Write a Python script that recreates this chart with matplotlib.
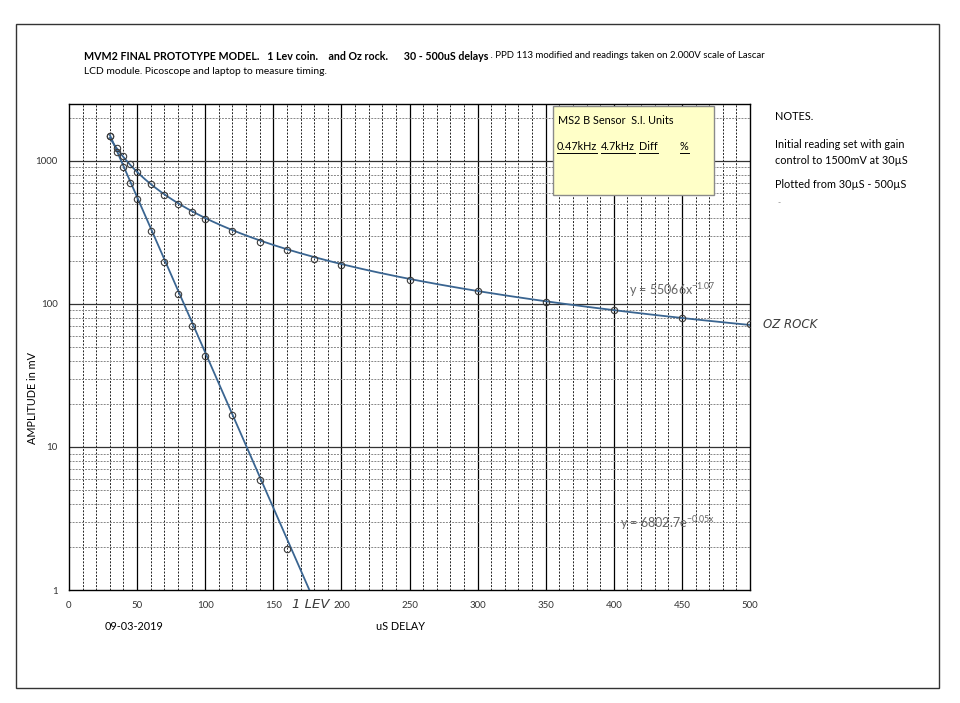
import numpy as np
import matplotlib
matplotlib.use('Agg')
import matplotlib.pyplot as plt
from matplotlib.patches import Rectangle

plt.rcParams['font.family'] = ['Lato', 'DejaVu Sans']

# delay in uS, amplitude in mV
oz_delay = [30, 35, 40, 45, 50, 60, 70, 80, 90, 100, 120, 140, 160, 180, 200,
            250, 300, 350, 400, 450, 500]
oz_amp = [1500, 1240, 1085, 950, 835, 690, 575, 498, 440, 392, 322, 273, 237,
          207, 187, 147, 123, 104, 91, 80, 72]
lev_delay = [30, 35, 40, 45, 50, 60, 70, 80, 90, 100, 120, 140, 160]
lev_amp = [1500, 1150, 900, 705, 540, 326, 197, 117, 70.5, 43.5, 16.7, 5.9, 1.95]

# trendline coefficients as printed on the chart
pow_a, pow_b = 55066, -1.07
exp_a, exp_b = 6802.7, -0.05

W, H = 960, 703
fig = plt.figure(figsize=(W / 100, H / 100), dpi=100)
renderer = fig.canvas.get_renderer()

def px(x, y):
    return x / W, 1 - y / H

# axes box in pixels: left 69, right 750, top 104, bottom 590
ax = fig.add_axes([69 / W, 1 - 590 / H, (750 - 69) / W, (590 - 104) / H])
ax.set_yscale('log')
ax.set_xlim(0, 500)
ax.set_ylim(1, 2500)

# grid like the excel sheet
for xv in np.arange(10, 500, 10):
    if xv % 50 == 0:
        ax.axvline(xv, color='black', lw=0.9, zorder=1)
    else:
        ax.axvline(xv, color='#222222', lw=0.7, ls=(0, (2, 1.5)), zorder=1)
for dec in [1, 10, 100, 1000]:
    for m in range(2, 10):
        if dec * m < 2500:
            ax.axhline(dec * m, color='#888888', lw=0.7, ls=(0, (2, 1.2)), zorder=1)
    if dec > 1:
        ax.axhline(dec, color='#333333', lw=0.9, zorder=1)

# trendlines
x_oz = np.linspace(30, 500, 300)
ax.plot(x_oz, pow_a * x_oz ** pow_b, color='#3a6591', lw=1.3, zorder=3)
x_lev = np.linspace(30, 185, 300)
ax.plot(x_lev, exp_a * np.exp(exp_b * x_lev), color='#3a6591', lw=1.3, zorder=3)

# data points
ax.plot(oz_delay, oz_amp, 'o', ms=4.6, mfc='none', mec='#3c3c3c', mew=0.8, zorder=4)
ax.plot(lev_delay, lev_amp, 'o', ms=4.6, mfc='none', mec='#3c3c3c', mew=0.8, zorder=4)

ax.set_xticks(np.arange(0, 501, 50))
ax.set_yticks([1, 10, 100, 1000])
ax.set_yticklabels(['1', '10', '100', '1000'])
ax.yaxis.set_minor_locator(matplotlib.ticker.NullLocator())
ax.tick_params(length=0, labelsize=7, colors='#333333', pad=8)
for s in ax.spines.values():
    s.set_color('black')
    s.set_linewidth(1.0)

fig.text(*px(629, 290), r'y = 55066x$^{\mathregular{-1.07}}$', fontsize=9,
         color='#666666', va='center')
fig.text(*px(620, 523), r'y = 6802.7e$^{\mathregular{-0.05x}}$', fontsize=9,
         color='#666666', va='center')

# legend-like yellow box
fig.patches.append(Rectangle(px(553, 195), (714 - 553) / W, (195 - 106) / H,
                             transform=fig.transFigure, facecolor='#ffffc8',
                             edgecolor='#8a8a8a', lw=1.0, zorder=5))
fig.text(*px(558, 120), 'MS2 B Sensor  S.I. Units', fontsize=7.8, va='center', zorder=6)
for lab, xp in [('0.47kHz', 557), ('4.7kHz', 601), ('Diff', 639), ('%', 680)]:
    t = fig.text(*px(xp, 147), lab, fontsize=7.8, va='center', zorder=6)
    wpx = t.get_window_extent(renderer).width
    fig.lines.append(plt.Line2D([xp / W, (xp + wpx) / W], [1 - 153 / H] * 2,
                                transform=fig.transFigure, color='black',
                                lw=0.7, zorder=6))

# title, bold part then normal part
t1 = fig.text(*px(84, 56), 'MVM2 FINAL PROTOTYPE MODEL.   1 Lev coin.    and Oz rock.      30 - 500uS delays',
              fontsize=7.7, fontweight='bold', va='center')
w1 = t1.get_window_extent(renderer).width
fig.text(*px(84 + w1, 56), ' . PPD 113 modified and readings taken on 2.000V scale of Lascar',
         fontsize=6.9, va='center')
fig.text(*px(84, 72), 'LCD module. Picoscope and laptop to measure timing.', fontsize=7.4,
         va='center')

# notes
fig.text(*px(775, 117), 'NOTES.', fontsize=7.8, va='center')
fig.text(*px(775, 145), 'Initial reading set with gain', fontsize=7.8, va='center')
fig.text(*px(775, 161), 'control to 1500mV at 30µS', fontsize=7.8, va='center')
fig.text(*px(775, 185), 'Plotted from 30µS - 500µS', fontsize=7.8, va='center')
fig.text(*px(777, 203), '-', fontsize=6, va='center', color='#777777')

# axis titles and handwriting
fig.text(*px(400, 627), 'uS DELAY', fontsize=7.8, ha='center', va='center')
fig.text(*px(134, 627), '09-03-2019', fontsize=7.8, ha='center', va='center')
fig.text(*px(33, 398), 'AMPLITUDE in mV', fontsize=7.8, ha='center', va='center',
         rotation=90)
fig.text(*px(311, 605), '1 LEV', fontsize=9.5, ha='center', va='center',
         style='italic', color='#3a3a3a', family='DejaVu Sans')
fig.text(*px(790, 325), 'OZ ROCK', fontsize=8.5, ha='center', va='center',
         style='italic', color='#3a3a3a', family='DejaVu Sans')

# page border
fig.patches.append(Rectangle(px(16, 688), (939 - 16) / W, (688 - 24) / H,
                             transform=fig.transFigure, facecolor='none',
                             edgecolor='#333333', lw=1.0))

fig.savefig('out.png', dpi=100)
